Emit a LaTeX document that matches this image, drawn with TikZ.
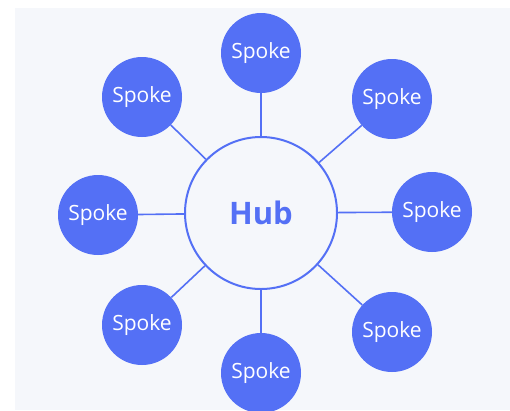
\documentclass[tikz,border=0pt]{standalone}
\usepackage{fontspec}
\setmainfont{Open Sans}
\definecolor{spokeblue}{HTML}{5470F5}
\definecolor{panelgray}{HTML}{F5F7FB}
\begin{document}
\begin{tikzpicture}[x=1pt, y=-1pt,
		spoke/.style={circle, fill=spokeblue, minimum size=80pt, inner sep=0pt, text=white, font=\fontsize{21}{25}\selectfont},
		hub/.style={circle, draw=spokeblue, line width=2pt, fill=panelgray, minimum size=152pt, inner sep=0pt, text=spokeblue, font=\bfseries\fontsize{31}{37}\selectfont},
		link/.style={draw=spokeblue, line width=1.6pt}]
		\useasboundingbox (0, 0) rectangle (510, 410);
		\fill[white] (0, 0) rectangle (510, 410);
		\fill[panelgray] (15, 8) rectangle (510, 410);
		\node[hub] (hub) at (261, 213) {Hub};
		\node[spoke] (top) at (261, 53) {Spoke};
		\node[spoke] (topleft) at (142, 97) {Spoke};
		\node[spoke] (topright) at (392, 99) {Spoke};
		\node[spoke] (left) at (98, 215) {Spoke};
		\node[spoke] (right) at (432, 212) {Spoke};
		\node[spoke] (botleft) at (142, 325) {Spoke};
		\node[spoke] (botright) at (392, 332) {Spoke};
		\node[spoke] (bot) at (261, 373) {Spoke};
		\draw[link] (hub) -- (top);
		\draw[link] (hub) -- (topleft);
		\draw[link] (hub) -- (topright);
		\draw[link] (hub) -- (left);
		\draw[link] (hub) -- (right);
		\draw[link] (hub) -- (botleft);
		\draw[link] (hub) -- (botright);
		\draw[link] (hub) -- (bot);
	\end{tikzpicture}
\end{document}
